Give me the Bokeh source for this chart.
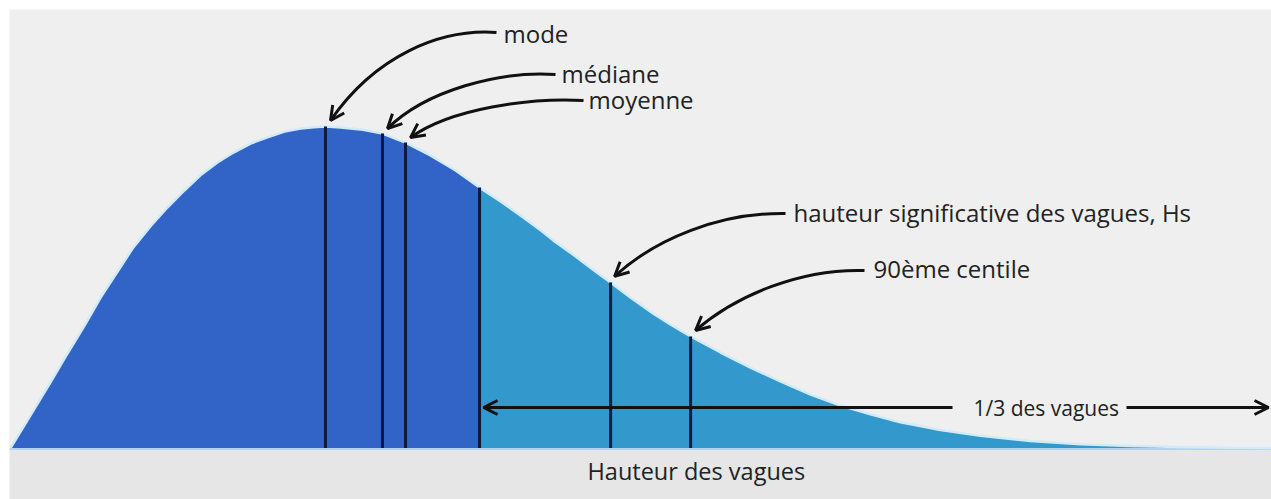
from bokeh.plotting import figure
from bokeh.models import ColumnDataSource, Label, Arrow, OpenHead, BoxAnnotation, Span, Range1d
from bokeh.embed import file_html
from bokeh.resources import INLINE

# ---------------- data ----------------
# wave height (mode = 1) and relative probability density (peak = 1)
wave_height = [0.000, 0.032, 0.073, 0.127, 0.181, 0.235, 0.286, 0.340, 0.390, 0.444,
               0.498, 0.552, 0.603, 0.657, 0.708, 0.762, 0.816, 0.870, 0.921, 0.962,
               1.000, 1.048, 1.111, 1.181, 1.254, 1.333, 1.413, 1.489, 1.556, 1.619,
               1.683, 1.724, 1.794, 1.857, 1.905, 1.968, 2.041, 2.095, 2.159, 2.254,
               2.349, 2.444, 2.540, 2.635, 2.730, 2.825, 2.952, 3.079, 3.238, 3.397,
               3.556, 3.714, 3.873, 4.003]
density = [0.000, 0.051, 0.117, 0.204, 0.294, 0.381, 0.468, 0.549, 0.624, 0.689,
           0.748, 0.801, 0.848, 0.888, 0.919, 0.947, 0.966, 0.984, 0.994, 0.998,
           1.000, 0.997, 0.991, 0.978, 0.950, 0.910, 0.863, 0.810, 0.767, 0.723,
           0.677, 0.645, 0.596, 0.549, 0.515, 0.468, 0.418, 0.384, 0.347, 0.297,
           0.250, 0.207, 0.166, 0.132, 0.105, 0.080, 0.056, 0.038, 0.022, 0.012,
           0.006, 0.003, 0.001, 0.000]

marker_names = ["mode", "médiane", "moyenne", "seuil 1/3", "hauteur significative des vagues, Hs", "90ème centile"]
marker_height = [1.000, 1.181, 1.254, 1.489, 1.905, 2.159]
marker_top = [1.000, 0.978, 0.950, 0.810, 0.515, 0.347]

callout_texts = ["mode", "médiane", "moyenne", "hauteur significative des vagues, Hs", "90ème centile"]
callout_marker = [0, 1, 2, 4, 5]
third_text = "1/3 des vagues"
axis_title = "Hauteur des vagues"

# ---------------- layout (reference pixel positions) ----------------
W, H = 1271, 499
LM, TM = 9, 9
def X(px):
    return (px - 10) / 315.0
def Y(py):
    return (447.5 - py) / 321.5
def DX(d):
    return d / 315.0
def DY(d):
    return d / 321.5

label_pos = [(503, 33), (561, 73), (588, 99), (793, 212), (873, 268)]
tail_pos = [(496, 32), (555, 74), (583, 100), (785, 213), (864, 270)]
ctrl1 = [(440, 28), (500, 70), (530, 97), (720, 212), (800, 268)]
ctrl2 = [(375, 55), (425, 90), (450, 108), (655, 238), (735, 295)]
tip_off = [(5, 6), (5, 5), (5, 5), (4, 6), (5, 6)]

DARK = "#3264c8"
LIGHT = "#3398cc"
LINE = "#0c1a3c"
TXT = "#222222"
FONT = "Open Sans"
HEAD = dict(size=14, line_width=3, line_color="#111111")

p = figure(width=W, height=H, output_backend="svg", toolbar_location=None,
           x_range=Range1d(X(LM), X(W)), y_range=Range1d(Y(H), Y(TM)),
           min_border=0, min_border_left=LM, min_border_top=TM,
           min_border_right=0, min_border_bottom=0, outline_line_color=None,
           background_fill_color="#efefef", border_fill_color="white")
p.xaxis.visible = False
p.yaxis.visible = False
p.xgrid.visible = False
p.ygrid.visible = False

# bottom band below baseline
p.add_layout(BoxAnnotation(top=0, fill_color="#e6e6e6", fill_alpha=1, line_alpha=0, level="underlay"))
p.add_layout(Span(location=Y(448.5), dimension="width", line_color="#b5d2ee", line_width=2, level="underlay"))

thr = marker_height[3]
dark_x = [h for h in wave_height if h <= thr]
dark_y = [d for h, d in zip(wave_height, density) if h <= thr]
light_x = [h for h in wave_height if h >= thr]
light_y = [d for h, d in zip(wave_height, density) if h >= thr]

p.varea(x=dark_x, y1=[0] * len(dark_x), y2=dark_y, fill_color=DARK)
p.varea(x=light_x, y1=[0] * len(light_x), y2=light_y, fill_color=LIGHT)
p.line(wave_height, density, line_color="#d2ebf9", line_width=2.5)

msrc = ColumnDataSource(dict(h=marker_height, top=marker_top, name=marker_names))
p.segment(x0="h", y0=0, x1="h", y1="top", source=msrc, line_color=LINE, line_width=3)

# callouts
for i, txt in enumerate(callout_texts):
    m = callout_marker[i]
    ex = marker_height[m] + DX(tip_off[i][0])
    ey = marker_top[m] + DY(tip_off[i][1])
    tx, ty = X(tail_pos[i][0]), Y(tail_pos[i][1])
    c1x, c1y = X(ctrl1[i][0]), Y(ctrl1[i][1])
    c2x, c2y = X(ctrl2[i][0]), Y(ctrl2[i][1])
    p.bezier(x0=[tx], y0=[ty], x1=[ex], y1=[ey], cx0=[c1x], cy0=[c1y], cx1=[c2x], cy1=[c2y],
             line_color="#111111", line_width=3)
    p.add_layout(Arrow(x_start=c2x, y_start=c2y, x_end=ex, y_end=ey, line_alpha=0,
                       end=OpenHead(**HEAD)))
    p.add_layout(Label(x=X(label_pos[i][0]), y=Y(label_pos[i][1]), text=txt,
                       text_font=FONT, text_font_size="24px", text_color=TXT,
                       text_baseline="alphabetic", text_align="left"))

# 1/3 des vagues double arrow
ay = Y(407)
p.add_layout(Arrow(x_start=X(952), y_start=ay, x_end=thr + DX(4), y_end=ay, line_width=3,
                   line_color="#111111", end=OpenHead(**HEAD)))
p.add_layout(Arrow(x_start=X(1126), y_start=ay, x_end=X(1268), y_end=ay, line_width=3,
                   line_color="#111111", end=OpenHead(**HEAD)))
p.add_layout(Label(x=X(973), y=Y(407), text=third_text, text_font=FONT, text_font_size="21px",
                   text_color=TXT, text_baseline="alphabetic", text_align="left"))

p.add_layout(Label(x=X(587), y=Y(470), text=axis_title, text_font=FONT, text_font_size="23.5px",
                   text_color=TXT, text_baseline="alphabetic", text_align="left"))

open("out.html", "w").write(file_html(p, INLINE))
